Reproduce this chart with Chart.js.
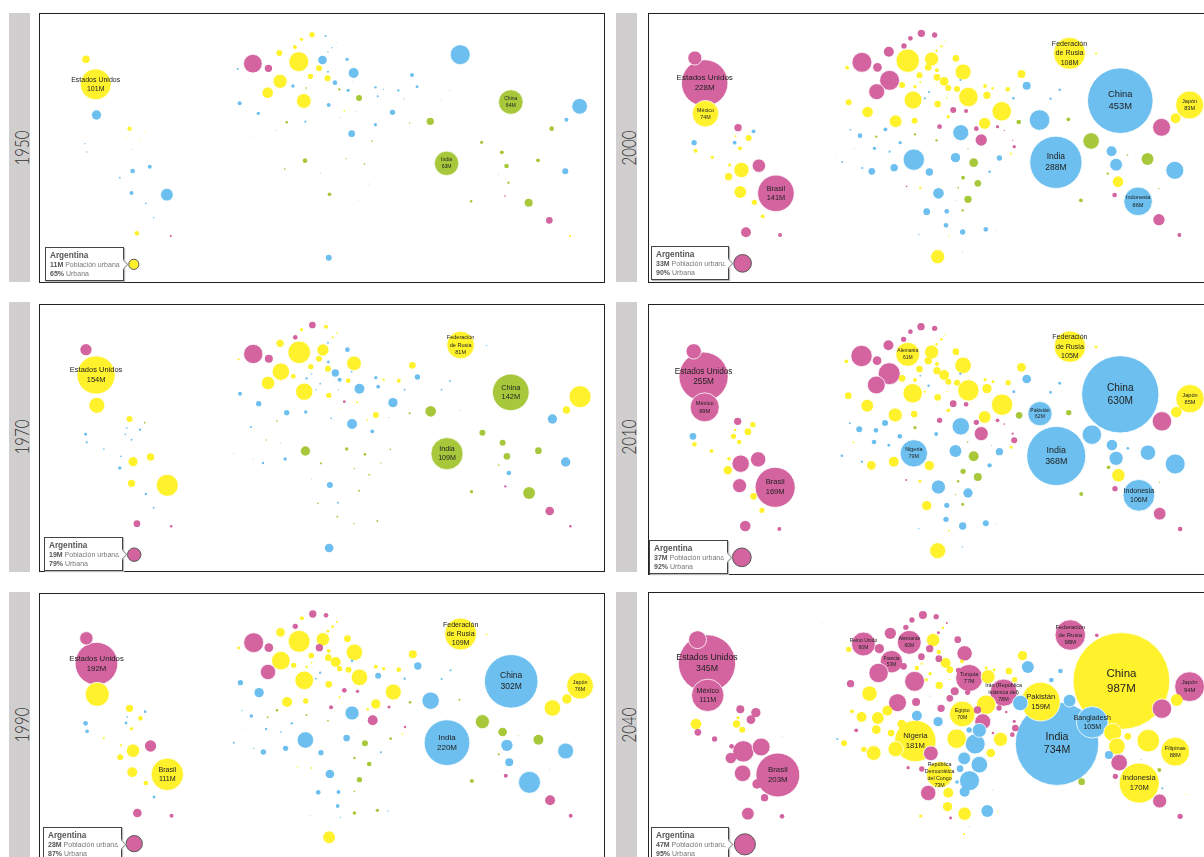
<!DOCTYPE html>
<html>
<head>
<meta charset="utf-8">
<title>Población urbana</title>
<script src="https://cdn.jsdelivr.net/npm/chart.js@4"></script>
<style>
  html, body { margin: 0; padding: 0; background: #fff; overflow: hidden; width: 1204px; height: 857px; }
  body { position: relative; font-family: "Liberation Sans", Arial, sans-serif; filter: blur(0.35px); }
  .abs { position: absolute; }
  .frame { border: 1px solid #222; box-sizing: border-box; }
  .strip { background: #d0cece; }
  .year { position: absolute; left: 50%; top: 50%; margin-left: 1px;
    transform: translate(-50%, -50%) rotate(-90deg) scaleX(0.75);
    font: 300 20px Lato, sans-serif; color: #333; }
  .tip { background: #fff; border: 1px solid #444; box-sizing: border-box; color: #777; font-size: 7px;
    line-height: 9px; padding: 3px 0 0 4px; box-shadow: 1px 1px 1px #bbb; }
  .tip b { color: #555; }
  .tip .name { font-size: 8.2px; font-weight: bold; color: #555; }
  .tip i { position: absolute; right: -4px; top: 13px; width: 6px; height: 6px; background: #fff;
    border-top: 1px solid #999; border-right: 1px solid #999; transform: rotate(45deg); }
  canvas { position: absolute; }
</style>
</head>
<body>
<script>
const years = [1950, 1970, 1990, 2000, 2010, 2040];
const argPop = [11, 19, 28, 33, 37, 47];
const argPct = [65, 79, 87, 90, 92, 95];
const argX = [344, 345, 345, 350, 348, 356];
const argY = [793, 779, 776, 790, 787, 778];
const argClass = ['yellow', 'pink', 'pink', 'pink', 'pink', 'pink'];

const yellow1950 = [[221,178,6.2],[246,253,101,'Estados Unidos'],[333,386,2],[352,700,2.3],[802,104,3],[775,118,1.2],[758,141,1.7],[718,159,3.8],[768,185,42],[820,205,3.8],[798,229,3],[842,235,3.8],[720,244,21],[688,278,12],[781,303,23],[885,333,.3],[371,397,.1],[326,412,.1],[359,417,.15],[1465,708,.4]];
const blue1950 = [[248,345,9.2],[218,431,.2],[223,456,.2],[341,513,2.3],[385,500,1.7],[308,533,.3],[338,579,1.7],[429,584,17],[375,610,.3],[395,653,.2],[337,448,.1],[837,108,.5],[865,128,.05],[854,143,.2],[843,156,.2],[829,180,8],[892,178,1.2],[909,219,10.5],[843,215,.4],[861,248,2.3],[753,258,1.2],[611,207,.4],[616,310,1.7],[664,340,1.2],[845,315,1.7],[895,271,1.2],[965,262,.6],[986,268,.2],[971,289,.5],[1024,271,.6],[1059,225,1.7],[1072,260,.9],[1009,337,3],[965,374,1.1],[904,401,4.7],[785,365,.5],[917,335,.1],[872,353,.1],[1039,297,.15],[1134,298,.1],[1156,272,.1],[1183,164,42],[1490,319,26],[1456,359,1.7],[1453,514,3.8],[845,773,3.8]];
const green1950 = [[787,264,.3],[872,268,.6],[923,294,3.8],[737,367,.7],[1106,364,5.7],[1313,306,64,'China'],[1148,490,63,'India'],[1418,386,2.3],[1238,427,1.1],[1290,457,1.6],[1302,498,2.3],[1383,481,1.6],[1307,548,.6],[1211,604,.7],[1359,608,6.8],[784,482,2.3],[847,583,1.4],[732,507,.3],[890,476,.2],[937,492,.3],[956,423,.3],[1053,369,.2],[824,519,.1],[948,552,.1],[922,601,.05],[1281,524,.1],[905,243,.1],[711,391,.1],[645,409,.08]];
const pink1950 = [[650,191,37],[690,205,5.7],[439,708,.5],[1298,588,.3],[1412,661,4.7]];

const yellow1970 = [[247,240,154,'Estados Unidos'],[249,331,27],[333,372,3.8],[387,486,5.7],[342,500,9],[338,565,5.7],[430,571,51],[613,193,.5],[838,95,1.7],[775,104,1.1],[866,114,.3],[855,127,.5],[720,145,5.7],[769,172,54],[830,165,13.5],[820,191,3.8],[799,215,3],[843,221,3.8],[722,230,32],[689,264,19],[754,244,2.3],[782,290,32],[910,205,23],[845,301,3],[895,257,2.3],[918,322,.4],[966,360,3.8],[944,375,.3],[872,340,.1],[1060,211,4.7],[986,254,.6],[1025,257,1.7],[1184,150,81,'Federación\nde Rusia'],[1491,305,51],[1456,345,5.7]];
const blue1970 = [[220,418,.9],[223,442,.5],[267,462,.3],[326,399,.3],[360,404,.6],[322,418,.3],[338,434,.4],[311,484,.3],[308,519,1.2],[375,597,.7],[395,638,.4],[843,143,.4],[893,164,2.3],[844,201,.8],[862,234,5.7],[873,254,1.7],[788,250,.6],[801,237,.2],[823,266,.3],[812,284,.2],[870,284,.15],[617,296,1.7],[665,326,3],[737,353,3],[786,351,1.2],[645,396,.5],[904,230,.3],[924,281,10.5],[966,248,1.2],[972,275,1.5],[1040,284,.4],[1073,246,3],[1010,323,9.2],[905,387,10.5],[957,409,1.6],[851,370,.3],[1135,284,.3],[1157,258,.4],[1251,151,.2],[1420,372,9.2],[1454,501,9.2],[1308,534,2.3],[733,492,1.2],[676,504,.6],[651,492,.1],[848,570,3.8],[869,623,.4],[801,552,.1],[846,759,8]];
const green1970 = [[372,383,.3],[1107,349,12],[1053,355,.5],[1313,292,142,'China'],[1149,476,109,'India'],[1240,413,3.8],[1292,443,3.8],[1303,484,4.7],[1384,467,4.7],[1282,510,.3],[1212,590,1.2],[1360,594,15],[785,468,9.2],[891,462,1.2],[938,478,.8],[1003,463,.3],[825,505,.5],[979,504,.2],[911,521,.2],[949,539,.3],[923,587,.4],[817,625,.3],[867,665,.3],[910,686,.2],[970,678,.4],[712,378,.3],[684,435,.2],[721,444,.1],[600,476,.1],[1181,347,.1]];
const pink1970 = [[221,164,13.5],[651,177,39.5],[691,191,6.8],[803,90,4.7],[759,127,2.3],[885,320,.8],[352,686,4.7],[440,694,.7],[1413,648,8],[1466,694,.7],[1299,574,.6],[999,368,.1]];

const yellow1990 = [[250,328,61],[333,370,5.7],[361,400,2.3],[338,431,1.2],[267,459,.5],[311,481,.5],[342,497,19],[309,517,3.8],[340,562,10.5],[430,568,111,'Brasil'],[375,594,2.3],[613,189,.9],[776,100,1.7],[866,111,.4],[855,125,.8],[843,139,.9],[721,142,8],[769,169,51],[830,163,19],[845,198,1.7],[800,212,3.3],[844,218,4.7],[722,227,37],[863,231,10.5],[755,241,3],[873,251,3],[896,254,3.8],[788,246,.7],[801,233,.3],[893,161,4.7],[911,202,29],[782,286,37],[924,277,29],[845,298,4.7],[738,351,10.5],[786,348,3],[873,337,.5],[945,373,.7],[966,357,9.2],[1011,321,27],[1061,208,6.8],[966,245,1.6],[986,251,1.1],[1025,254,2.3],[1184,147,109,'Federación\nde Rusia'],[1251,148,.3],[1491,302,76,'Japón'],[1457,342,9.2],[1420,369,29],[846,757,15],[801,549,.4],[765,546,.2],[1034,447,.3]];
const blue1990 = [[220,415,2.3],[224,439,1.4],[373,380,.8],[327,396,.3],[324,414,.8],[618,293,3],[666,323,9.2],[905,227,.7],[823,263,.6],[812,281,.3],[972,272,3.8],[1040,281,.6],[1074,243,5.7],[1107,347,32],[1135,282,.5],[1158,256,.5],[905,384,21],[1314,289,302,'China'],[1149,473,220,'India'],[622,377,.15],[646,393,1.4],[684,432,.6],[750,415,.6],[722,441,.3],[652,490,.2],[601,473,.4],[677,501,3],[734,490,3],[785,465,29],[825,503,3],[891,459,4.7],[979,502,.5],[848,567,8],[818,622,2.3],[870,621,1.6],[868,663,1.5],[798,691,.1],[875,697,.2],[997,678,.2],[1303,481,13.5],[1309,532,6.8],[1361,592,51],[1454,498,27],[396,636,.8],[631,434,.05]];
const green1990 = [[712,376,.7],[688,397,.4],[788,390,.4],[843,407,.3],[1054,352,.8],[1181,344,.4],[1240,410,21],[1292,441,8],[1384,464,10.5],[1333,451,.1],[1282,508,.5],[1213,588,1.7],[938,475,3.8],[1004,461,.8],[911,519,.6],[949,537,2.3],[924,584,3],[911,619,.3],[911,684,1.4],[970,676,1.2],[923,433,.05],[1413,553,.1]];
const pink1990 = [[222,160,19],[248,236,192,'Estados Unidos'],[652,173,42],[691,188,8],[804,87,5.7],[838,91,2.3],[759,124,3],[821,188,5.7],[689,261,25],[885,316,2.3],[919,319,1.2],[851,367,1.7],[1000,366,1.1],[958,406,10.5],[1041,426,.6],[387,483,13.5],[353,684,8],[441,692,1.7],[1300,572,1.7],[1414,646,10.5],[1467,692,1.7]];

const yellow2000 = [[252,341,74,'México'],[626,203,1.5],[630,307,3.8],[680,336,12],[786,182,58],[849,177,21],[840,202,4.7],[817,226,3.8],[863,211,1.7],[863,232,4.7],[882,244,8],[893,264,3.8],[916,267,3.8],[771,255,3.8],[805,260,1.2],[819,247,.4],[875,139,.6],[885,124,.2],[862,153,.7],[913,175,4.7],[932,216,27],[800,300,34],[946,291,40],[865,312,4.7],[893,350,1.2],[754,364,15],[804,362,3.8],[989,370,13.5],[1034,334,40],[995,286,5.7],[990,258,1.6],[1010,265,.7],[1050,268,2.3],[1086,222,6.8],[1213,160,108,'Federación\nde Rusia'],[1283,161,.5],[1530,315,83,'Japón'],[1493,355,10.5],[1341,545,12],[226,452,1.7],[366,414,3.8],[343,445,1.6],[331,409,.4],[270,472,1.2],[316,495,1],[347,510,25],[313,530,5.7],[344,576,15],[381,607,3],[403,649,1.6],[865,770,21],[819,563,.6],[895,710,.2],[1058,461,.5],[889,294,.3]];
const blue2000 = [[379,394,1.6],[222,428,3],[329,428,1.5],[925,240,.5],[842,276,.5],[831,295,.5],[1100,257,6.8],[1065,295,.7],[1134,360,45],[1163,296,.6],[1187,269,.7],[1347,302,453,'China'],[1177,487,288,'India'],[635,389,.3],[660,407,2.3],[727,388,1.6],[926,398,27],[644,446,.1],[698,445,1.2],[766,428,1.2],[738,455,.5],[595,472,.05],[613,486,.4],[666,504,.4],[691,514,4.7],[750,503,5.7],[802,479,48],[843,516,5.7],[912,473,9.2],[1028,474,3],[1002,515,.7],[867,580,12],[836,635,4.7],[889,634,2.3],[887,676,2.3],[815,704,.2],[931,696,3],[992,688,2.3],[1020,691,.1],[1324,454,10.5],[1336,494,17],[1491,511,34],[1394,604,86,'Indonesia']];
const green2000 = [[703,410,.6],[805,403,.6],[862,421,.6],[1079,366,2.3],[1210,358,1.6],[1270,423,29],[1419,477,15],[1366,465,.3],[1314,521,.6],[1243,601,1.6],[960,488,8],[932,533,1.6],[971,550,4.7],[919,563,.3],[945,598,5.7],[913,602,.1],[931,631,.6],[945,446,.2],[1449,566,.2],[930,758,.1]];
const pink2000 = [[224,174,21],[250,249,228,'Estados Unidos'],[338,383,5.7],[393,497,19],[438,580,141,'Brasil'],[359,697,10.5],[449,705,1.7],[665,187,42],[706,202,8],[736,155,10.5],[793,115,2.3],[822,100,5.7],[857,105,3],[776,138,3],[738,241,42],[704,275,27],[906,330,3.8],[940,333,1.7],[870,380,2.3],[967,386,2.3],[1023,380,1.1],[980,420,13.5],[1067,440,1.2],[1041,391,.2],[1332,585,2.3],[1449,659,13.5],[1503,705,1.7],[1456,382,34],[783,559,.3],[1063,421,.2]];

const yellow2010 = [[786,178,61,'Alemania'],[849,171,21],[840,197,5.7],[817,222,4.7],[863,207,1.7],[863,227,5.7],[882,240,10.5],[893,260,3.8],[916,263,3.8],[771,250,4.7],[805,255,1.6],[624,199,1.5],[629,302,4.7],[679,332,17],[875,133,.7],[885,119,.2],[862,148,.8],[913,170,4.7],[932,211,29],[799,295,40],[946,286,48],[865,307,4.7],[893,346,1.5],[753,360,21],[803,357,4.7],[831,290,.5],[989,366,17],[1035,329,48],[995,281,9.2],[990,254,1.1],[1011,260,.9],[1051,263,3],[1086,217,8],[1214,155,105,'Federación\nde Rusia'],[1283,156,.9],[1531,311,85,'Japón'],[1495,351,12],[1342,541,19],[223,448,2.3],[377,389,3],[364,410,4.7],[330,405,.6],[326,424,2.8],[341,441,2],[268,468,1.5],[314,491,1.3],[311,526,7.5],[379,604,4.7],[401,646,2.8],[643,442,.3],[690,511,8],[749,500,10.5],[843,512,9.2],[818,559,1],[836,632,9.2],[865,767,27],[895,707,.3],[1059,457,1],[889,290,.2],[1522,635,.05]];
const blue2010 = [[219,424,4.7],[925,236,.6],[819,242,.3],[841,272,.7],[1100,252,8],[1066,290,.9],[1135,356,62,'Pakistán'],[1163,292,.8],[1187,265,.9],[1347,298,630,'China'],[1178,483,368,'India'],[633,385,.4],[658,403,3.8],[702,406,2.3],[726,384,3.8],[926,394,32],[861,417,1.7],[697,441,2.3],[765,424,2.3],[736,451,.9],[594,468,.05],[612,482,.7],[665,500,.6],[802,475,79,'Nigeria'],[912,468,15],[1028,470,5.7],[1002,511,2],[867,576,21],[945,594,9.2],[889,631,2.8],[887,673,3],[815,701,.2],[931,693,5.7],[992,685,3.8],[1020,688,.1],[1272,419,40],[1325,450,12],[1336,490,21],[1367,460,.7],[1420,473,25],[1492,507,42],[1396,601,106,'Indonesia'],[930,756,.2]];
const green2010 = [[805,398,1.2],[1080,361,4.7],[1211,353,3],[1316,517,1.4],[1244,597,1.7],[960,484,10.5],[932,529,3],[971,546,6.8],[919,559,.7],[912,599,.2],[931,628,1],[944,441,.3],[1450,562,.2]];
const pink2010 = [[221,169,25],[247,245,255,'Estados Unidos'],[250,337,89,'México'],[337,379,5.7],[391,493,25],[345,506,32],[342,572,21],[436,577,169,'Brasil'],[357,693,12],[447,702,1.7],[664,183,48],[705,197,8],[735,151,10.5],[793,110,2.3],[821,95,5.7],[857,100,3],[775,133,3],[737,236,51],[703,270,34],[906,326,4.7],[940,328,2.3],[870,376,3],[967,382,3],[1023,376,1.5],[980,416,21],[1067,436,3.8],[1063,416,.5],[1041,387,.3],[1333,581,3],[1451,656,17],[1505,702,2.3],[1457,379,40],[782,555,.4],[1007,451,.1]];

const yellow2040 = [[227,417,12],[334,417,5.7],[338,398,1],[349,434,3.8],[630,193,3],[853,165,19],[879,128,.7],[868,201,2],[886,234,10.5],[897,254,4.7],[823,236,.5],[810,249,2],[929,229,1.5],[845,266,1.3],[835,284,1.2],[869,301,5.7],[897,284,.2],[998,275,21],[993,248,1],[1014,254,1],[1053,258,4.7],[1068,284,3],[1089,212,9.2],[685,326,25],[639,379,1.6],[664,396,10.5],[707,399,15],[732,377,10.5],[618,475,3.8],[670,493,3],[703,434,8],[742,444,4.7],[770,417,8],[696,504,23],[754,492,25],[806,468,181,'Nigeria'],[915,461,40],[993,359,40],[930,387,70,'Egipto'],[1137,350,159,'Pakistán'],[1350,288,987,'China'],[1031,463,21],[1005,504,8],[870,569,73,'República\nDemocrática\ndel Congo'],[893,623,10.5],[891,665,9.2],[936,686,19],[820,693,1.1],[934,747,.4],[1023,680,.2],[1327,442,34],[1338,484,29],[1367,454,4.7],[1421,467,54],[1492,500,88,'Filipinas'],[1397,594,170,'Indonesia'],[1496,345,15],[1521,628,.2],[1150,620,.1]];
const blue2040 = [[1103,246,15],[1165,285,2.3],[1189,258,2.3],[1083,354,25],[1180,476,734,'India'],[1213,347,17],[1273,412,105,'Bangladesh'],[810,392,10.5],[866,410,9.2],[948,435,3],[975,436,21],[964,477,42],[935,520,17],[975,539,29],[924,551,4.7],[949,587,42],[916,591,1.4],[936,620,10.5],[996,678,15],[600,462,.5],[1317,510,6.8],[1458,610,.5],[455,456,.1],[948,725,.1],[1011,615,.1]];
const green2040 = [[1245,590,4.7],[1450,555,1.6]];
const pink2040 = [[231,164,34],[256,235,345,'Estados Unidos'],[258,331,111,'México'],[344,373,6.8],[385,383,9.2],[372,404,8],[232,442,4.7],[276,462,3],[321,484,2.3],[399,486,34],[352,499,48],[319,519,12],[350,565,29],[443,570,203,'Brasil'],[388,597,9.2],[408,638,5.7],[364,686,17],[454,694,2.3],[669,177,60,'Reino Unido'],[711,191,9.2],[740,145,13.5],[781,127,3],[797,105,3],[826,90,6.8],[861,95,3],[790,172,60,'Alemania'],[844,191,5.7],[867,143,.9],[889,114,.4],[743,230,53,'Francia'],[775,244,4.7],[822,215,4.7],[868,221,4.7],[709,264,40],[804,289,42],[918,164,4.7],[936,205,25],[948,279,77,'Turquía'],[920,256,3],[910,319,6.8],[944,322,3],[897,340,4.7],[635,296,5.7],[759,353,34],[808,351,6.8],[874,370,5.7],[970,375,5.7],[984,410,27],[1027,369,3],[1039,323,78,'Irán (República\nIslámica del)'],[1067,409,1.1],[1070,429,4.7],[1062,449,2.3],[1046,381,.7],[1011,444,.7],[650,436,1.6],[787,548,1.2],[847,505,23],[823,552,3],[840,624,25],[899,699,.9],[1344,533,29],[1334,574,3],[1451,648,21],[1505,694,3],[1457,371,40],[1530,305,94,'Japón'],[1215,150,98,'Federación\nde Rusia'],[1285,151,1.4],[845,333,.1],[1402,524,.1],[560,114,.05]];

const seriesByYear = [
  { yellow: yellow1950, blue: blue1950, green: green1950, pink: pink1950 },
  { yellow: yellow1970, blue: blue1970, green: green1970, pink: pink1970 },
  { yellow: yellow1990, blue: blue1990, green: green1990, pink: pink1990 },
  { yellow: yellow2000, blue: blue2000, green: green2000, pink: pink2000 },
  { yellow: yellow2010, blue: blue2010, green: green2010, pink: pink2010 },
  { yellow: yellow2040, blue: blue2040, green: green2040, pink: pink2040 },
];

const colors = { yellow: '#fff22d', blue: '#6cbfee', green: '#a8c83c', pink: '#d3649f' };

// page boxes of each panel: canvas, black frame, grey strip and the little Argentina box
const layout = [
  { canvas: [0, 0, 610, 290], frame: [39, 13, 566, 270], strip: [9, 13, 21, 269], tip: [45, 247, 79, 34] },
  { canvas: [0, 295, 610, 285], frame: [39, 304, 566, 268], strip: [9, 302, 21, 270], tip: [44, 537, 79, 34] },
  { canvas: [0, 585, 610, 272], frame: [39, 593, 566, 280], strip: [9, 592, 21, 265], tip: [43, 827, 79, 34] },
  { canvas: [610, 0, 594, 290], frame: [648, 13, 600, 270], strip: [616, 13, 21, 269], tip: [651, 246, 78, 34] },
  { canvas: [610, 295, 594, 285], frame: [648, 304, 600, 271], strip: [616, 302, 21, 270], tip: [649, 540, 79, 34] },
  { canvas: [610, 585, 594, 272], frame: [648, 592, 600, 280], strip: [616, 592, 21, 265], tip: [651, 827, 78, 34] },
];

function radius(pop) {
  return 1.54 * Math.sqrt(pop);
}

function labelSize(pop) {
  if (pop < 100) return 5 + (pop - 60) * 0.025;
  return 7 + (radius(pop) - 15.4) * 0.135;
}

function box(cls, b) {
  const el = document.createElement('div');
  el.className = 'abs ' + cls;
  el.style.left = b[0] + 'px';
  el.style.top = b[1] + 'px';
  el.style.width = b[2] + 'px';
  el.style.height = b[3] + 'px';
  document.body.appendChild(el);
  return el;
}

// text of the named bubbles, drawn on top of the marks
const bubbleLabels = {
  id: 'bubbleLabels',
  afterDatasetsDraw(chart) {
    const ctx = chart.ctx;
    const meta = chart.getDatasetMeta(0);
    ctx.save();
    ctx.textAlign = 'center';
    ctx.textBaseline = 'middle';
    ctx.fillStyle = '#222';
    meta.data.forEach((el, i) => {
      const raw = chart.data.datasets[0].data[i];
      if (!raw.name) return;
      const lines = raw.name.split('\n').concat(raw.pop + 'M');
      const size = labelSize(raw.pop);
      const step = size * 1.3;
      ctx.font = size + 'px "Liberation Sans", Arial, sans-serif';
      lines.forEach((line, k) => {
        ctx.fillText(line, el.x, el.y + (k - (lines.length - 1) / 2) * step);
      });
    });
    ctx.restore();
  },
};

years.forEach((year, i) => {
  const l = layout[i];
  box('strip', l.strip).innerHTML = '<span class="year">' + year + '</span>';
  box('frame', l.frame);

  const canvas = document.createElement('canvas');
  canvas.style.left = l.canvas[0] + 'px';
  canvas.style.top = l.canvas[1] + 'px';
  canvas.width = l.canvas[2];
  canvas.height = l.canvas[3];
  document.body.appendChild(canvas);

  const points = [];
  Object.keys(seriesByYear[i]).forEach((cls) => {
    seriesByYear[i][cls].forEach((p) => {
      points.push({ x: p[0], y: p[1], r: radius(p[2]), pop: p[2], name: p[3], color: colors[cls] });
    });
  });
  points.push({ x: argX[i], y: argY[i], r: radius(argPop[i]), pop: argPop[i], color: colors[argClass[i]], selected: true });
  // big ones first so the small bubbles stay visible
  points.sort((a, b) => b.pop - a.pop);

  new Chart(canvas, {
    type: 'bubble',
    data: {
      datasets: [{
        label: String(year),
        data: points,
        clip: false,
        backgroundColor: (c) => c.raw.color,
        borderColor: (c) => (c.raw.selected ? '#555' : '#fff'),
        borderWidth: (c) => (c.raw.selected ? 1 : (c.raw.r >= 6 ? 0.8 : 0)),
      }],
    },
    options: {
      responsive: false,
      animation: false,
      events: [],
      layout: { padding: 0, autoPadding: false },
      plugins: { legend: { display: false }, tooltip: { enabled: false } },
      scales: {
        x: { type: 'linear', display: false, min: 0, max: 1568 },
        y: { type: 'linear', display: false, reverse: true, min: 0, max: l.canvas[3] * 3 },
      },
    },
    plugins: [bubbleLabels],
  });

  box('tip', l.tip).innerHTML = '<div class="name">Argentina</div><div><b>' + argPop[i] + 'M</b> Población urbana</div><div><b>'
    + argPct[i] + '%</b> Urbana</div><i></i>';
});
</script>
</body>
</html>
